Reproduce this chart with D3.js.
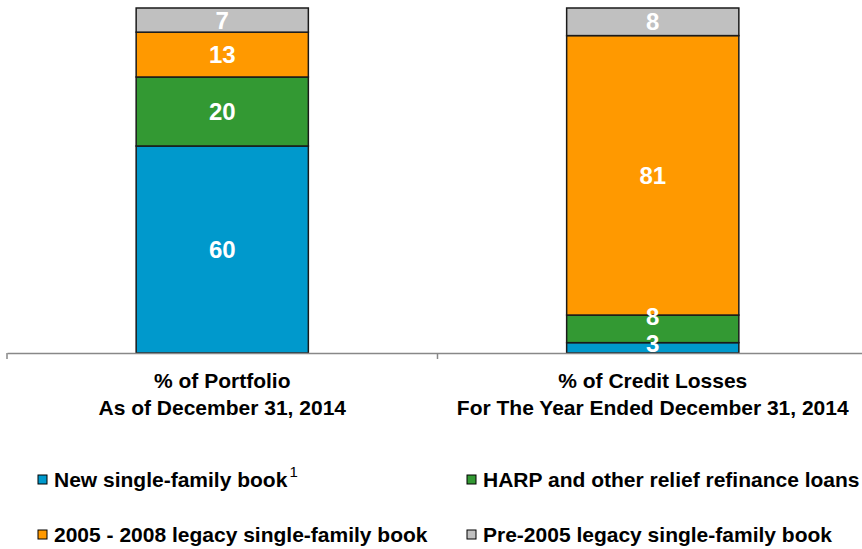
<!DOCTYPE html>
<html>
<head>
<meta charset="utf-8">
<script src="https://cdn.jsdelivr.net/npm/d3@7"></script>
<style>
  body { margin: 0; background: #fff; }
  svg { display: block; font-family: "Liberation Sans", Arial, sans-serif; font-weight: bold; }
</style>
</head>
<body>
<div id="chart"></div>
<script>
// categories (two lines each)
const categories = ['portfolio', 'losses'];
const categoryLabels = [
    ['% of Portfolio', 'As of December 31, 2014'],
    ['% of Credit Losses', 'For The Year Ended December 31, 2014']
];

// series, bottom to top
const seriesNames = [
    'New single-family book',
    'HARP and other relief refinance loans',
    '2005 - 2008 legacy single-family book',
    'Pre-2005 legacy single-family book'
];
const newBook = [60, 3];
const harp = [20, 8];
const legacy0508 = [13, 81];
const pre2005 = [7, 8];

const COLORS = ['#0099cc', '#339933', '#ff9900', '#c0c0c0'];
const WIDTH = 862;
const HEIGHT = 549;
const AXIS_Y = 353;   // 坐标轴位置
const TOP_Y = 8;
const LABEL_GAP = 27; // 数据标签最小间距

const rows = categories.map((c, i) => ({
    key: c,
    s0: newBook[i], s1: harp[i], s2: legacy0508[i], s3: pre2005[i]
}));
const keys = ['s0', 's1', 's2', 's3'];

const svg = d3.select('#chart').append('svg')
    .attr('width', WIDTH)
    .attr('height', HEIGHT);

const x = d3.scaleBand()
    .domain(categories)
    .range([7, 868])
    .paddingInner(0)
    .paddingOuter(0);

const y = d3.scaleLinear()
    .domain([0, 100])
    .range([AXIS_Y, TOP_Y]);

const barW = x.bandwidth() * 0.4;

const stacked = d3.stack().keys(keys)(rows);

// 柱子
svg.append('g').selectAll('g')
    .data(stacked)
    .join('g')
    .attr('fill', (d, i) => COLORS[i])
    .selectAll('rect')
    .data(d => d)
    .join('rect')
    .attr('x', d => x(d.data.key) + (x.bandwidth() - barW) / 2)
    .attr('y', d => y(d[1]))
    .attr('width', barW)
    .attr('height', d => y(d[0]) - y(d[1]))
    .attr('stroke', '#1a1a1a')
    .attr('stroke-width', 1.5);

// 坐标轴
const axis = svg.append('g')
    .attr('transform', `translate(0,${AXIS_Y})`)
    .call(d3.axisBottom(x).tickSize(0).tickFormat(''));
axis.select('.domain').attr('stroke', '#888').attr('stroke-width', 1.5);
axis.selectAll('.tick').remove();

// category separators
const sepX = [x.range()[0], x(categories[1]), x.range()[1] - 1];
svg.append('g').selectAll('line')
    .data(sepX)
    .join('line')
    .attr('x1', d => d).attr('x2', d => d)
    .attr('y1', AXIS_Y).attr('y2', AXIS_Y + 6)
    .attr('stroke', '#888')
    .attr('stroke-width', 1.5);

// 数据标签, pushed apart when segments are thin
categories.forEach((c, ci) => {
    let labels = stacked.map((s, si) => ({
        value: s[ci][1] - s[ci][0],
        cy: (y(s[ci][0]) + y(s[ci][1])) / 2
    }));
    labels[0].cy = Math.min(labels[0].cy, AXIS_Y - 10);
    for (let i = 1; i < labels.length; i++) {
        if (labels[i - 1].cy - labels[i].cy < LABEL_GAP) {
            labels[i].cy = labels[i - 1].cy - LABEL_GAP;
        }
    }
    svg.append('g').selectAll('text')
        .data(labels)
        .join('text')
        .attr('x', x(c) + x.bandwidth() / 2)
        .attr('y', d => d.cy)
        .attr('dy', '0.36em')
        .attr('text-anchor', 'middle')
        .attr('fill', '#fff')
        .attr('font-size', 24)
        .text(d => d.value);
});

// category labels
categories.forEach((c, ci) => {
    const t = svg.append('text')
        .attr('text-anchor', 'middle')
        .attr('font-size', 21)
        .attr('fill', '#000');
    categoryLabels[ci].forEach((line, li) => {
        t.append('tspan')
            .attr('x', x(c) + x.bandwidth() / 2)
            .attr('y', 388 + li * 27)
            .text(line);
    });
});

// 图例
const legendPos = [[38, 476], [467, 476], [38, 531], [467, 531]];
const legend = svg.append('g').selectAll('g')
    .data(seriesNames)
    .join('g')
    .attr('transform', (d, i) => `translate(${legendPos[i][0]},${legendPos[i][1]})`);
legend.append('rect')
    .attr('x', 0).attr('y', -1)
    .attr('width', 9).attr('height', 9)
    .attr('fill', (d, i) => COLORS[i])
    .attr('stroke', '#000')
    .attr('stroke-width', 1);
const legText = legend.append('text')
    .attr('x', 16)
    .attr('y', 11)
    .attr('font-size', 21)
    .attr('fill', '#000')
    .text(d => d);
legText.filter((d, i) => i === 0)
    .append('tspan')
    .attr('dy', -10)
    .attr('dx', 2)
    .attr('font-size', 15)
    .attr('font-weight', 'normal')
    .text('1');
</script>
</body>
</html>
